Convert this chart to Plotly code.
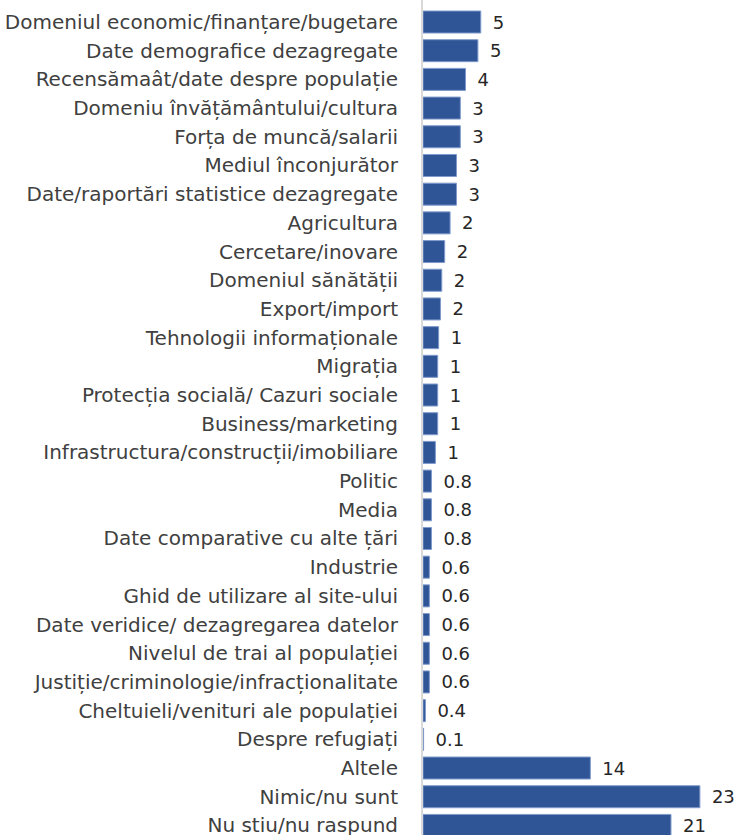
import plotly.graph_objects as go

categories = [
    "Domeniul economic/finanțare/bugetare",
    "Date demografice dezagregate",
    "Recensămaât/date despre populație",
    "Domeniu învățământului/cultura",
    "Forța de muncă/salarii",
    "Mediul înconjurător",
    "Date/raportări statistice dezagregate",
    "Agricultura",
    "Cercetare/inovare",
    "Domeniul sănătății",
    "Export/import",
    "Tehnologii informaționale",
    "Migrația",
    "Protecția socială/ Cazuri sociale",
    "Business/marketing",
    "Infrastructura/construcții/imobiliare",
    "Politic",
    "Media",
    "Date comparative cu alte țări",
    "Industrie",
    "Ghid de utilizare al site-ului",
    "Date veridice/ dezagregarea datelor",
    "Nivelul de trai al populației",
    "Justiție/criminologie/infracționalitate",
    "Cheltuieli/venituri ale populației",
    "Despre refugiați",
    "Altele",
    "Nimic/nu sunt",
    "Nu stiu/nu raspund",
]

values = [4.8, 4.56, 3.53, 3.1, 3.1, 2.78, 2.78, 2.25, 1.8, 1.56, 1.45,
          1.3, 1.22, 1.22, 1.22, 1.03, 0.7, 0.7, 0.7, 0.53, 0.53, 0.53,
          0.53, 0.53, 0.2, 0.05, 13.9, 23.0, 20.6]

labels = ["5", "5", "4", "3", "3", "3", "3", "2", "2", "2", "2",
          "1", "1", "1", "1", "1", "0.8", "0.8", "0.8", "0.6", "0.6", "0.6",
          "0.6", "0.6", "0.4", "0.1", "14", "23", "21"]

FONT = "DejaVu Sans"

fig = go.Figure(go.Bar(
    x=values,
    y=categories,
    orientation="h",
    text=labels,
    texttemplate="\u2002%{text}",
    textposition="outside",
    cliponaxis=False,
    textfont=dict(family=FONT, size=18, color="#262626"),
    marker=dict(color="#2F5597", line=dict(color="#7F9ACB", width=1)),
))

n = len(categories)
fig.update_layout(
    width=740,
    height=835,
    margin=dict(l=423, r=4, t=0, b=0, autoexpand=False),
    paper_bgcolor="white",
    plot_bgcolor="white",
    bargap=0.233,
    showlegend=False,
    font=dict(family=FONT, size=18, color="#404040"),
)
fig.update_xaxes(
    range=[0, 26],
    showgrid=False,
    zeroline=False,
    showticklabels=False,
    showline=False,
    automargin=False,
)
fig.update_yaxes(
    type="category",
    categoryorder="array",
    categoryarray=categories,
    range=[n - 1 + 0.334, -0.767],
    showgrid=False,
    zeroline=False,
    showline=True,
    linecolor="#D9D9D9",
    linewidth=2,
    ticks="",
    ticklabelstandoff=19,
    automargin=False,
    tickfont=dict(family=FONT, size=20, color="#404040"),
)

fig.write_html(
    "out.html",
    config={"displayModeBar": False},
    post_script="document.body.style.margin='0';document.body.style.overflow='hidden';",
)
